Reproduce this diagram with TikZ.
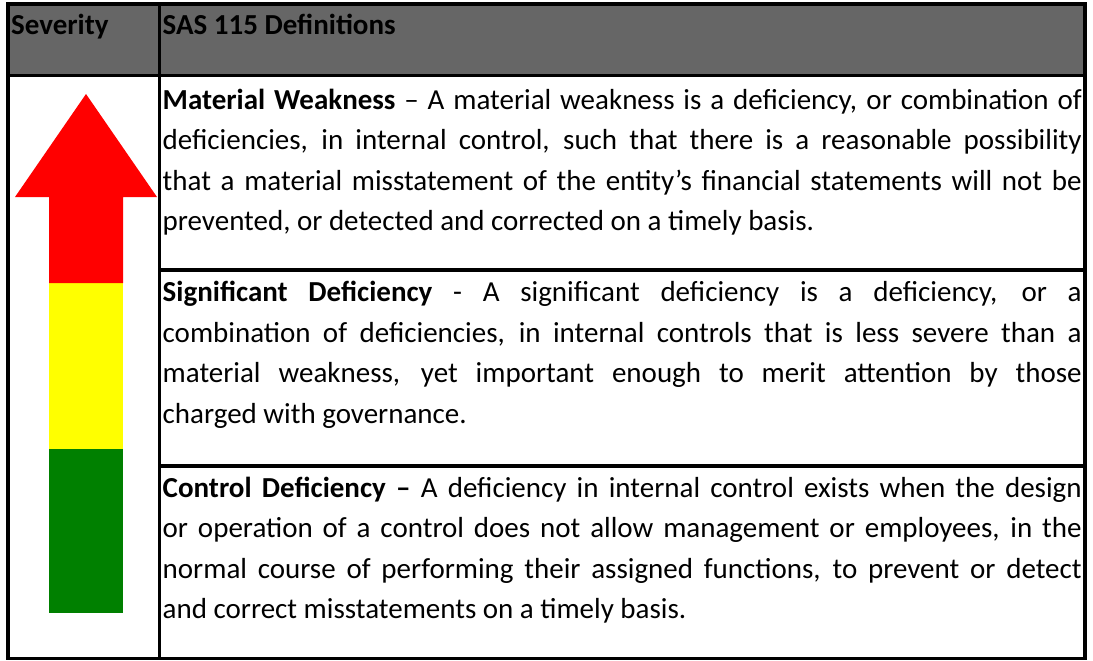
\documentclass[tikz,border=0pt]{standalone}
\usepackage{fontspec}
\setmainfont{Carlito}
\usepackage{tikz}
\usetikzlibrary{positioning}

\definecolor{headgray}{HTML}{666666}
\definecolor{sevred}{HTML}{FF0000}
\definecolor{sevyellow}{HTML}{FFFF00}
\definecolor{sevgreen}{HTML}{008000}

\newcommand{\defnfont}{\fontsize{29}{40.5}\selectfont
  \spaceskip=0.226em plus 0.4em minus 0.1em\relax}

\begin{document}
\begin{tikzpicture}[
  x=1pt, y=-1pt,
  rule/.style={line width=3.5pt},
  headtext/.style={
    anchor=base west,
    inner sep=0pt,
    font=\bfseries\fontsize{29}{40}\selectfont
  },
  defn/.style={
    anchor=base west,
    inner sep=0pt,
    text width=919pt,
    align=justify,
    font=\defnfont
  }
]
\useasboundingbox (0,0) rectangle (1093,661);
\fill[headgray] (8,4) rectangle (1085,75.5);
\fill[sevgreen] (49,449) rectangle (123,613);
\fill[sevyellow] (49,283) rectangle (123,449);
\fill[sevred] (49,283) -- (49,197) -- (15,197) -- (86,94)
  -- (157,197) -- (123,197) -- (123,283) -- cycle;
\draw[rule] (8,4) rectangle (1085,658.5);
\draw[rule] (159.5,4) -- (159.5,658.5);
\draw[rule] (8,75.5) -- (1085,75.5);
\draw[rule] (159.5,270) -- (1085,270);
\draw[rule] (159.5,466) -- (1085,466);
\node[headtext] (severity) at (11,35) {Severity};
\node[headtext] (sasdefs) at (162.5,35) {SAS 115 Definitions};
\node[defn] (weakness) at (162.5,109.5)
  {\textbf{Material Weakness} – A material weakness is a deficiency, or combination of\linebreak
   deficiencies, in internal control, such that there is a reasonable possibility\linebreak
   that a material misstatement of the entity’s financial statements will not be\linebreak
   prevented, or detected and corrected on a timely basis.};
\node[defn] (significant) at (162.5,301.5)
  {\textbf{Significant Deficiency} - A significant deficiency is a deficiency, or a\linebreak
   combination of deficiencies, in internal controls that is less severe than a\linebreak
   material weakness, yet important enough to merit attention by those\linebreak
   charged with governance.};
\node[defn] (control) at (162.5,497)
  {\textbf{Control Deficiency –} A deficiency in internal control exists when the design\linebreak
   or operation of a control does not allow management or employees, in the\linebreak
   normal course of performing their assigned functions, to prevent or detect\linebreak
   and correct misstatements on a timely basis.};
\end{tikzpicture}
\end{document}
